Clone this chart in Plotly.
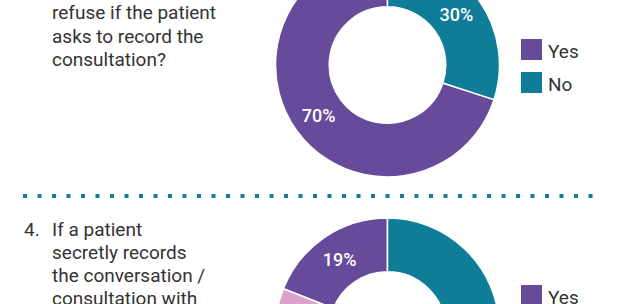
import plotly.graph_objects as go

# ---- data ----
q3_labels = ["Yes", "No"]
q3_values = [70, 30]
q4_labels = ["Yes", "Not sure", "No"]
q4_values = [19, 8, 73]
colors = {"Yes": "#684a9a", "No": "#0f7c98", "Not sure": "#dba2cc"}

q3_text = ["refuse if the patient", "asks to record the", "consultation?"]
q4_num = "4."
q4_text = ["If a patient", "secretly records", "the conversation /", "consultation with"]

# ---- layout helpers (screen px -> paper) ----
W, H, OFF = 644, 520, 47
def px(x):
    return x / W
def py(y):
    return 1 - (y + OFF) / H

fig = go.Figure()

R = 112
cx = 387.5
for labels, values, cy in [(q3_labels, q3_values, 65), (q4_labels, q4_values, 330)]:
    rot = -values[0] / sum(values) * 360
    fig.add_trace(go.Pie(
        labels=labels, values=values,
        hole=0.52, sort=False, direction="counterclockwise", rotation=rot,
        marker=dict(colors=[colors[l] for l in labels], line=dict(color="white", width=1.5)),
        texttemplate="%{value}%", textposition="inside", insidetextorientation="horizontal",
        insidetextfont=dict(family="Roboto", size=18, color="white", weight=500),
        hoverinfo="label+percent", showlegend=False,
        domain=dict(x=[px(cx - R), px(cx + R)], y=[py(cy + R), py(cy - R)]),
    ))

ann = []
font = dict(family="Roboto", size=19, color="#333333")
for i, t in enumerate(q3_text):
    ann.append(dict(text=t, x=px(50), y=py(12 + 24 * i), xanchor="left", yanchor="middle",
                    showarrow=False, font=font, xref="paper", yref="paper"))
ann.append(dict(text=q4_num, x=px(22), y=py(229), xanchor="left", yanchor="middle",
                showarrow=False, font=font, xref="paper", yref="paper"))
for i, t in enumerate(q4_text):
    ann.append(dict(text=t, x=px(50), y=py(229 + 23 * i), xanchor="left", yanchor="middle",
                    showarrow=False, font=font, xref="paper", yref="paper"))

shapes = []
# custom legends
for labels, top in [(q3_labels, 39), (q4_labels, 285)]:
    for i, l in enumerate(labels):
        y0 = top + 33 * i
        shapes.append(dict(type="rect", xref="paper", yref="paper",
                           x0=px(521), x1=px(542), y0=py(y0), y1=py(y0 + 21),
                           fillcolor=colors[l], line=dict(width=0)))
        ann.append(dict(text=l, x=px(546), y=py(y0 + 12), xanchor="left", yanchor="middle",
                        showarrow=False, font=font, xref="paper", yref="paper"))

# dotted separator
shapes.append(dict(type="line", xref="paper", yref="paper",
                   x0=px(23), x1=px(595), y0=py(196), y1=py(196),
                   line=dict(color="#1a7a9a", width=4, dash="4px,10.5px")))

fig.update_layout(
    width=W, height=H, margin=dict(l=0, r=0, t=0, b=0),
    paper_bgcolor="white", plot_bgcolor="white",
    annotations=ann, shapes=shapes, showlegend=False,
)

post = ("document.body.style.margin='0';document.body.style.overflow='hidden';"
        "var d=document.getElementById('{plot_id}');d.style.marginTop='-%dpx';" % OFF)
fig.write_html("out.html", post_script=post, config={"displayModeBar": False})
